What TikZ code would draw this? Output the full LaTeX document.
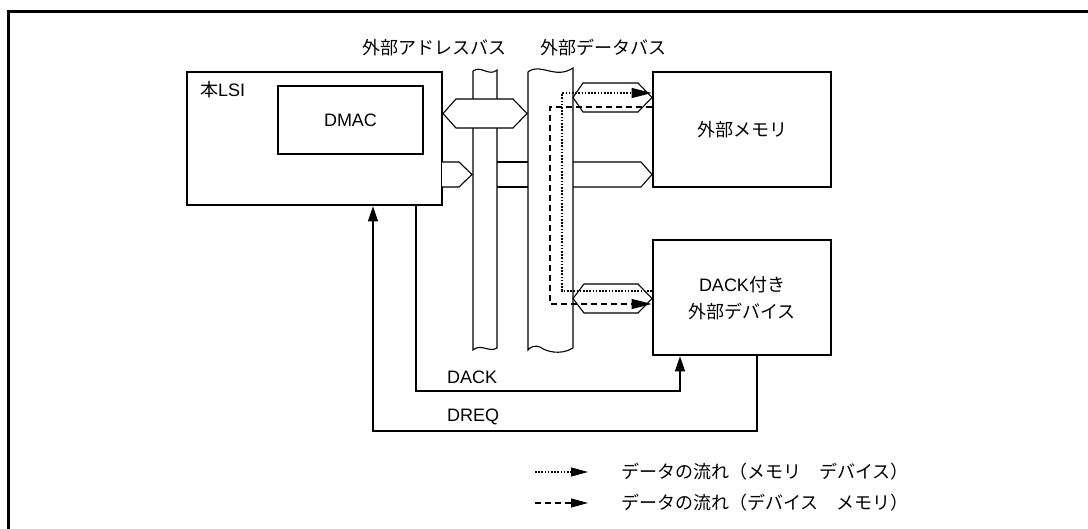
\documentclass[tikz,border=0pt]{standalone}
\usepackage{fontspec}
\setmainfont{Liberation Sans}
\newfontfamily\jp{Noto Sans CJK JP}
\usetikzlibrary{arrows.meta}
\tikzset{
  thickbox/.style={draw, line width=2.6pt, fill=white, inner sep=0pt},
  thin/.style={line width=1.1pt},
  bus/.style={thin, fill=white},
  conn/.style={line width=1.1pt},
  flowdot/.style={line width=1.1pt, dash pattern=on 1.6pt off 1.6pt},
  flowdash/.style={line width=1.1pt, dash pattern=on 6pt off 4pt},
  tip/.style={-{Triangle[length=20pt,width=10pt]}},
  ctip/.style={-{Triangle[length=15pt,width=10pt]}},
  lbl/.style={font=\fontsize{18}{27}\selectfont, inner sep=0pt}
}
\begin{document}
\begin{tikzpicture}[x=1pt,y=-1pt]
\useasboundingbox (0,0) rectangle (1088,529);
% frame
\draw[line width=3pt] (8,535) -- (8,12) -- (1095,12);

% boxes
\node[thickbox, minimum width=255pt, minimum height=133pt] (lsi) at (314.5,138.5) {};
\node[thickbox, minimum width=145pt, minimum height=68pt, lbl] (dmac) at (350.5,120) {DMAC};
\node[lbl, anchor=west] (lsilbl) at (200,90) {{\jp 本}LSI};
\node[thickbox, minimum width=178pt, minimum height=115pt] (mem) at (742,129.5) {};
\node[lbl] (memlbl) at (mem.center) {\jp 外部メモリ};
\node[thickbox, minimum width=178pt, minimum height=115pt] (dev) at (742,297.5) {};
\node[lbl, align=center] (devlbl) at (742,298.5) {DACK{\jp 付き}\\{\jp 外部デバイス}};

% bus labels
\node[lbl] (abl) at (434.5,48) {\jp 外部アドレスバス};
\node[lbl] (dbl) at (603,48) {\jp 外部データバス};

% address band from LSI to memory
\draw[thin, fill=white] (442,162) -- (459,162) -- (472,174.5) -- (459,187) -- (442,187);
\draw[thin] (497,162) -- (528,162) (497,187) -- (528,187);
\draw[thin, fill=white] (573,162) -- (641,162) -- (652,174.5) -- (641,187) -- (573,187);

% address bus
\draw[bus] (473,71) .. controls (481,65) and (489,77) .. (497,70) -- (497,348)
  .. controls (489,353) and (481,343) .. (473,350) -- cycle;
% data bus
\draw[bus] (528,72) .. controls (540,62) and (555,80) .. (573,68) -- (573,348)
  .. controls (560,356) and (545,351) .. (540,347) .. controls (535,345) and (530,347) .. (528,350) -- cycle;

% hexagons
\draw[thin, fill=white] (443,113.5) -- (456,99) -- (513,99) -- (527,113.5) -- (513,128) -- (456,128) -- cycle;
\draw[thin, fill=white] (573,97.5) -- (583,83) -- (638,83) -- (652,97.5) -- (638,112) -- (583,112) -- cycle;
\draw[thin, fill=white] (573,298.5) -- (584,284) -- (638,284) -- (652,298.5) -- (638,313) -- (584,313) -- cycle;

% data flows
\coordinate (dt1) at (562,291);
\coordinate (dt2) at (562,93);
\draw[flowdot, tip] (dt1 -| dev.west) -- (dt1) -- (dt2) -- (dt2 -| mem.west);
\coordinate (ds1) at (550,107);
\coordinate (ds2) at (550,304);
\draw[flowdash, tip] (ds1 -| mem.west) -- (ds1) -- (ds2) -- (ds2 -| dev.west);

% DACK / DREQ
\coordinate (dackx) at (416,391);
\coordinate (dacke) at (680,391);
\draw[conn, ctip] (lsi.south -| dackx) -- (dackx) -- (dacke) -- (dev.south -| dacke);
\node[lbl, anchor=west] (dacklbl) at (447,377) {DACK};
\coordinate (dreqx) at (757,431);
\coordinate (dreqe) at (373,431);
\draw[conn, ctip] (dev.south -| dreqx) -- (dreqx) -- (dreqe) -- (lsi.south -| dreqe);
\node[lbl, anchor=west] (dreqlbl) at (447,417) {DREQ};

% legend
\coordinate (l1a) at (535,472);
\coordinate (l1b) at (588,472);
\coordinate (l2a) at (535,503);
\coordinate (l2b) at (588,503);
\draw[flowdot, -{Triangle[length=17pt,width=9pt]}] (l1a) -- (l1b);
\draw[flowdash, -{Triangle[length=17pt,width=9pt]}] (l2a) -- (l2b);
\node[lbl, anchor=west] (leg1) at (621,472) {\jp データの流れ（メモリ　デバイス）};
\node[lbl, anchor=west] (leg2) at (621,503) {\jp データの流れ（デバイス　メモリ）};
\end{tikzpicture}
\end{document}
